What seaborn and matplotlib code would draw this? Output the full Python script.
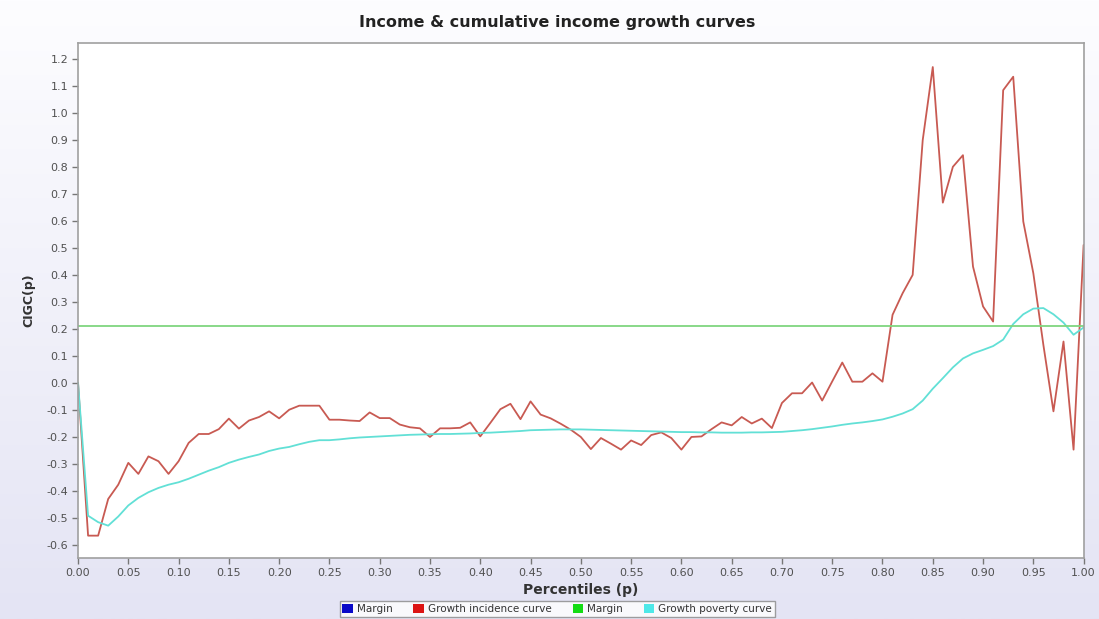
import numpy as np
import pandas as pd
import matplotlib
matplotlib.use("Agg")
import matplotlib.pyplot as plt
from matplotlib.patches import Patch
from matplotlib.colors import LinearSegmentedColormap
import seaborn as sns

# ---- data ----
percentiles = [round(i * 0.01, 2) for i in range(101)]

growth_incidence = [
    0.0, -0.567, -0.567, -0.431, -0.378, -0.297, -0.338, -0.273, -0.291, -0.338,
    -0.291, -0.223, -0.190, -0.190, -0.172, -0.133, -0.170, -0.140, -0.127, -0.106,
    -0.132, -0.100, -0.085, -0.085, -0.085, -0.137, -0.137, -0.140, -0.142, -0.110,
    -0.131, -0.131, -0.155, -0.165, -0.169, -0.201, -0.169, -0.169, -0.167, -0.147,
    -0.199, -0.149, -0.098, -0.078, -0.135, -0.069, -0.118, -0.132, -0.152, -0.174,
    -0.201, -0.246, -0.205, -0.226, -0.248, -0.214, -0.231, -0.194, -0.184, -0.205,
    -0.248, -0.201, -0.199, -0.172, -0.147, -0.158, -0.127, -0.151, -0.133, -0.168,
    -0.075, -0.039, -0.039, 0.001, -0.066, 0.005, 0.075, 0.004, 0.004, 0.035,
    0.004, 0.252, 0.332, 0.400, 0.900, 1.171, 0.668, 0.801, 0.844, 0.431,
    0.283, 0.227, 1.085, 1.135, 0.598, 0.406, 0.140, -0.106, 0.153, -0.248,
    0.511,
]

growth_poverty = [
    0.0, -0.493, -0.517, -0.530, -0.496, -0.455, -0.427, -0.406, -0.390, -0.378,
    -0.369, -0.356, -0.341, -0.326, -0.313, -0.297, -0.285, -0.275, -0.266, -0.253,
    -0.244, -0.238, -0.228, -0.219, -0.213, -0.213, -0.210, -0.206, -0.203, -0.201,
    -0.199, -0.197, -0.195, -0.193, -0.192, -0.191, -0.190, -0.190, -0.189, -0.188,
    -0.186, -0.185, -0.183, -0.181, -0.179, -0.176, -0.175, -0.174, -0.173, -0.173,
    -0.173, -0.174, -0.175, -0.176, -0.177, -0.178, -0.179, -0.180, -0.181, -0.182,
    -0.183, -0.183, -0.184, -0.184, -0.185, -0.185, -0.185, -0.184, -0.184, -0.183,
    -0.182, -0.179, -0.176, -0.172, -0.167, -0.162, -0.156, -0.151, -0.147, -0.142,
    -0.136, -0.126, -0.114, -0.098, -0.066, -0.022, 0.017, 0.057, 0.090, 0.109,
    0.122, 0.136, 0.160, 0.218, 0.254, 0.275, 0.277, 0.254, 0.223, 0.178,
    0.205,
]

margin_value = 0.21

x_ticks = [round(i * 0.05, 2) for i in range(21)]
y_ticks = [round(-0.6 + i * 0.1, 1) for i in range(19)]

legend_labels = ["Margin", "Growth incidence curve", "Margin", "Growth poverty curve"]
legend_colors = ["#0a0ac8", "#dc1414", "#14dc14", "#4ee8e8"]

# ---- figure ----
sns.set_theme(style="white")
plt.rcParams["font.family"] = ["DejaVu Sans"]

fig = plt.figure(figsize=(10.99, 6.19), dpi=100)
fig.patch.set_facecolor("#e9e9f6")

# background gradient (white at top to lavender at bottom)
bg = fig.add_axes([0, 0, 1, 1], zorder=-10)
grad = np.linspace(0, 1, 256).reshape(-1, 1)
cmap = LinearSegmentedColormap.from_list("bg", ["#fdfdff", "#e4e4f4"])
bg.imshow(grad, aspect="auto", cmap=cmap, extent=[0, 1, 0, 1], origin="upper")
bg.set_axis_off()

ax = fig.add_axes([0.071, 0.0985, 0.915, 0.832])
ax.set_facecolor("white")

df = pd.DataFrame({
    "p": percentiles * 3,
    "value": growth_incidence + growth_poverty + [margin_value] * len(percentiles),
    "series": (["Growth incidence curve"] * len(percentiles)
               + ["Growth poverty curve"] * len(percentiles)
               + ["Margin"] * len(percentiles)),
})

palette = {"Growth incidence curve": "#c85a52",
           "Growth poverty curve": "#62e0d6",
           "Margin": "#7fd67f"}
sns.lineplot(data=df, x="p", y="value", hue="series", palette=palette,
             ax=ax, legend=False, linewidth=1.3, estimator=None, sort=False)

ax.set_xlim(0, 1.0)
ax.set_ylim(-0.65, 1.26)
ax.set_xticks(x_ticks)
ax.set_xticklabels([f"{t:.2f}" for t in x_ticks])
ax.set_yticks(y_ticks)
ax.set_yticklabels([f"{t:.1f}" for t in y_ticks])
ax.tick_params(axis="both", which="major", direction="out", length=4, width=1,
               color="#777777", labelsize=8, labelcolor="#505050", pad=3,
               bottom=True, left=True)
for s in ax.spines.values():
    s.set_color("#a0a0a0")
    s.set_linewidth(1.2)

ax.set_xlabel("Percentiles (p)", fontsize=10, fontweight="bold", color="#333333", labelpad=4)
ax.set_ylabel("CIGC(p)", fontsize=9, fontweight="bold", color="#333333", labelpad=8)

fig.suptitle("Income & cumulative income growth curves", x=0.507, y=0.975,
             fontsize=11.5, fontweight="bold", color="#222222")

handles = [Patch(facecolor=c, edgecolor="none") for c in legend_colors]
leg = fig.legend(handles, legend_labels, loc="lower center", ncol=4,
                 bbox_to_anchor=(0.507, -0.005), fontsize=7.5, frameon=True,
                 handlelength=1.0, handleheight=1.0, handletextpad=0.4,
                 columnspacing=2.0, borderpad=0.25, fancybox=False)
leg.get_frame().set_edgecolor("#888888")
leg.get_frame().set_facecolor("white")
for t in leg.get_texts():
    t.set_color("#333333")

fig.savefig("out.png", dpi=100, facecolor=fig.get_facecolor())
